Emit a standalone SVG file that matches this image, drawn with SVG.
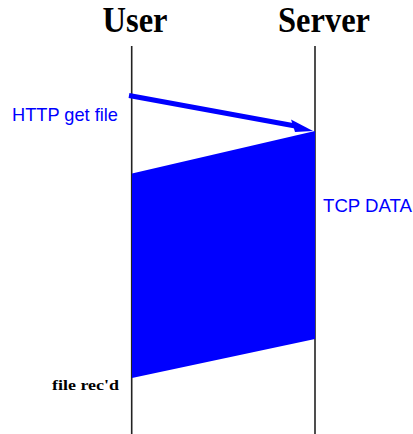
<svg xmlns="http://www.w3.org/2000/svg" width="413" height="434" viewBox="0 0 413 434">
<style>
.title{font-family:"Liberation Serif","Times New Roman",serif;font-weight:bold;font-size:36px;fill:#000}
.blue{font-family:"Liberation Sans",Arial,sans-serif;font-size:19px;fill:#0000ff}
.note{font-family:"Liberation Serif","Times New Roman",serif;font-weight:bold;font-size:15px;fill:#000}
.life{stroke:#222;stroke-width:1.6;fill:none}
</style>
<rect width="413" height="434" fill="#fff"/>
<g id="user">
<text class="title" x="135" y="31.5" text-anchor="middle" textLength="65" lengthAdjust="spacingAndGlyphs">User</text>
<line class="life" x1="131.7" y1="46" x2="131.7" y2="434"/>
</g>
<g id="server">
<text class="title" x="324" y="31.5" text-anchor="middle" textLength="92" lengthAdjust="spacingAndGlyphs">Server</text>
<line class="life" x1="315" y1="46" x2="315" y2="434"/>
</g>
<g id="connectors">
<polygon id="tcp-data" points="132,173.5 315,131 315,339 132,378" fill="#0000ff"/>
<g id="http-get">
<line x1="129" y1="95.5" x2="298" y2="126.5" stroke="#0000ff" stroke-width="5"/>
<polygon points="313,131 291,119.5 295,132" fill="#0000ff"/>
</g>
</g>
<g id="labels">
<text class="blue" x="12" y="120.5" textLength="106" lengthAdjust="spacingAndGlyphs">HTTP get file</text>
<text class="blue" x="323" y="212" textLength="89" lengthAdjust="spacingAndGlyphs">TCP DATA</text>
<text class="note" x="52" y="390" textLength="67" lengthAdjust="spacingAndGlyphs">file rec'd</text>
</g>
</svg>
